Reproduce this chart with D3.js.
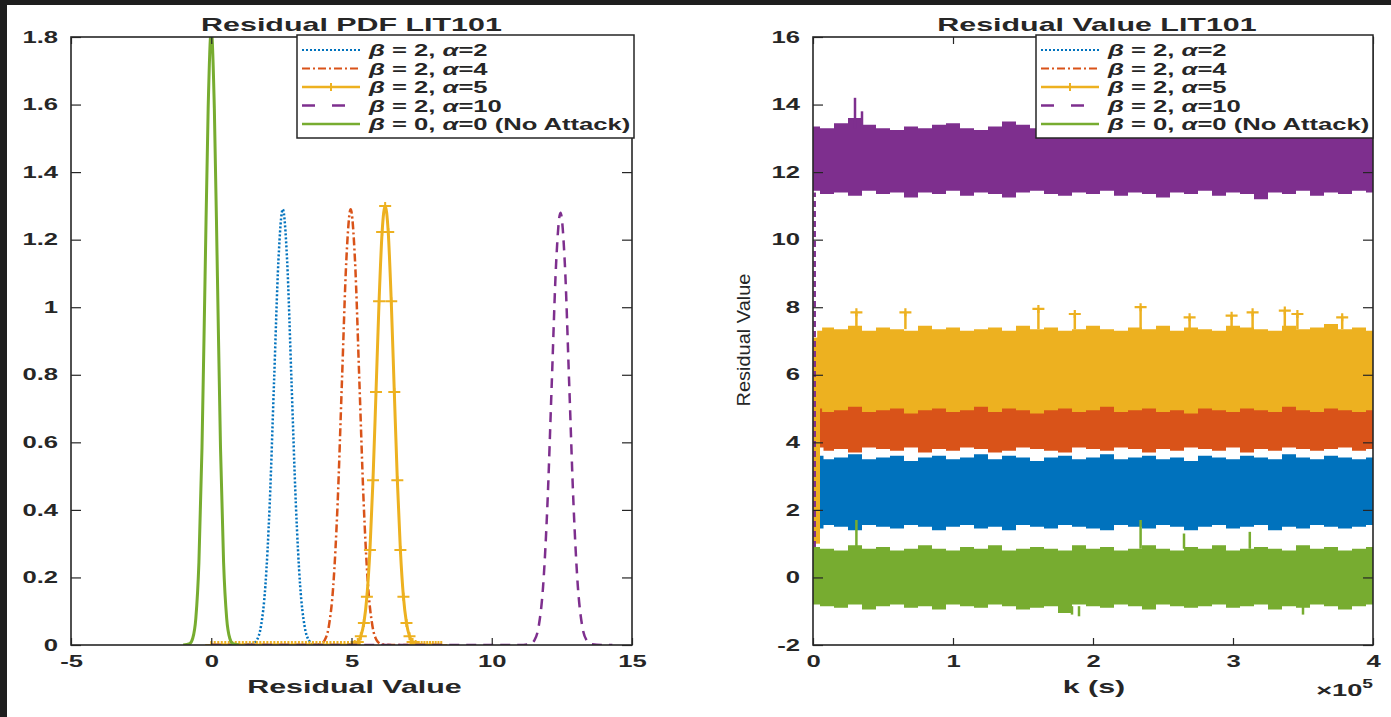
<!DOCTYPE html>
<html>
<head>
<meta charset="utf-8">
<script src="https://cdn.jsdelivr.net/npm/d3@7"></script>
<style>
body { margin: 0; background: #1e1e1e; }
svg { display: block; }
text { font-family: "Liberation Sans", Arial, sans-serif; fill: #262626; }
.axis text { font-weight: bold; font-size: 16px; }
.axis line { stroke: #262626; stroke-width: 1.2; }
.title { font-weight: bold; font-size: 19px; }
.xlabel { font-weight: bold; font-size: 19px; }
.legend text { font-weight: bold; font-size: 16px; }
</style>
</head>
<body>
<svg id="fig" width="1391" height="717"></svg>
<script>
// ---------- data ----------
var colors = ["#0072BD", "#D95319", "#EDB120", "#7E2F8E", "#77AC30"];
var legendBeta = ["2", "2", "2", "2", "0"];
var legendAlpha = ["2", "4", "5", "10", "0"];
var legendExtra = ["", "", "", "", " (No Attack)"];

var pdfXTicks = [-5, 0, 5, 10, 15];
var pdfXLabels = ["-5", "0", "5", "10", "15"];
var pdfYTicks = [0, 0.2, 0.4, 0.6, 0.8, 1, 1.2, 1.4, 1.6, 1.8];
var pdfYLabels = ["0", "0.2", "0.4", "0.6", "0.8", "1", "1.2", "1.4", "1.6", "1.8"];

var resXTicks = [0, 1, 2, 3, 4];
var resXLabels = ["0", "1", "2", "3", "4"];
var resYTicks = [-2, 0, 2, 4, 6, 8, 10, 12, 14, 16];
var resYLabels = ["-2", "0", "2", "4", "6", "8", "10", "12", "14", "16"];

// residual PDFs
var pdfBlueX = [1.0, 1.465, 1.62, 1.775, 1.93, 2.085, 2.24, 2.395, 2.55, 2.705, 2.86, 3.015, 3.17, 3.325, 3.48, 3.635, 4.0];
var pdfBlueY = [0, 0.003, 0.014, 0.057, 0.175, 0.419, 0.782, 1.138, 1.29, 1.138, 0.782, 0.419, 0.175, 0.057, 0.014, 0.003, 0];

var pdfOrangeX = [0, 3.5, 3.885, 4.04, 4.195, 4.35, 4.505, 4.66, 4.815, 4.97, 5.125, 5.28, 5.435, 5.59, 5.745, 5.9, 6.055, 6.5, 8.0];
var pdfOrangeY = [0, 0, 0.003, 0.014, 0.057, 0.175, 0.419, 0.782, 1.138, 1.29, 1.138, 0.782, 0.419, 0.175, 0.057, 0.014, 0.003, 0, 0];

var pdfYellowX = [0, 0.125, 0.25, 0.375, 0.5, 0.625, 0.75, 0.875, 1, 1.125, 1.25, 1.375, 1.5, 1.625, 1.75, 1.875,
  2, 2.125, 2.25, 2.375, 2.5, 2.625, 2.75, 2.875, 3, 3.125, 3.25, 3.375, 3.5, 3.625, 3.75, 3.875,
  4, 4.125, 4.25, 4.375, 4.5, 4.625, 4.75, 4.875,
  5.0, 5.115, 5.224, 5.332, 5.441, 5.549, 5.657, 5.766, 5.874, 5.983, 6.092, 6.2, 6.309, 6.417, 6.526, 6.634, 6.743, 6.851, 6.96, 7.068, 7.177, 7.285,
  7.4, 7.5, 7.6, 7.7, 7.8, 7.9, 8.0, 8.1, 8.2];
var pdfYellowY = [0, 0, 0, 0, 0, 0, 0, 0, 0, 0, 0, 0, 0, 0, 0, 0,
  0, 0, 0, 0, 0, 0, 0, 0, 0, 0, 0, 0, 0, 0, 0, 0,
  0, 0, 0, 0, 0, 0, 0, 0,
  0, 0.003, 0.009, 0.026, 0.065, 0.143, 0.281, 0.488, 0.749, 1.018, 1.223, 1.3, 1.223, 1.018, 0.749, 0.488, 0.281, 0.143, 0.065, 0.026, 0.009, 0.003,
  0, 0, 0, 0, 0, 0, 0, 0, 0];

var pdfPurpleX = [0, 11.0, 11.365, 11.52, 11.675, 11.83, 11.985, 12.14, 12.295, 12.45, 12.605, 12.76, 12.915, 13.07, 13.225, 13.38, 13.535, 13.9, 14.3];
var pdfPurpleY = [0, 0, 0.003, 0.014, 0.056, 0.173, 0.416, 0.776, 1.13, 1.28, 1.13, 0.776, 0.416, 0.173, 0.056, 0.014, 0.003, 0, 0];

var pdfGreenX = [-1.0, -0.77, -0.66, -0.55, -0.44, -0.33, -0.22, -0.11, 0, 0.11, 0.22, 0.33, 0.44, 0.55, 0.66, 0.77, 1.0];
var pdfGreenY = [0, 0.004, 0.020, 0.079, 0.244, 0.584, 1.092, 1.589, 1.82, 1.589, 1.092, 0.584, 0.244, 0.079, 0.020, 0.004, 0];

// residual value bands (k in units of 1e5 s)
var resK = [0, 0.1, 0.2, 0.3, 0.4, 0.5, 0.6, 0.7, 0.8, 0.9, 1, 1.1, 1.2, 1.3, 1.4, 1.5, 1.6, 1.7, 1.8, 1.9,
  2, 2.1, 2.2, 2.3, 2.4, 2.5, 2.6, 2.7, 2.8, 2.9, 3, 3.1, 3.2, 3.3, 3.4, 3.5, 3.6, 3.7, 3.8, 3.9, 4];

var resPurpleTop = [13.35,13.30,13.45,13.60,13.40,13.30,13.25,13.35,13.30,13.40,
  13.45,13.30,13.25,13.35,13.50,13.40,13.30,13.35,13.45,13.30,
  13.40,13.35,13.25,13.40,13.30,13.35,13.45,13.30,13.40,13.35,
  13.30,13.45,13.40,13.30,13.35,13.40,13.30,13.45,13.35,13.30,13.40];
var resPurpleLow = [11.45,11.35,11.40,11.30,11.45,11.35,11.40,11.25,11.40,11.35,
  11.45,11.30,11.40,11.35,11.25,11.40,11.45,11.35,11.30,11.40,
  11.35,11.45,11.30,11.40,11.35,11.25,11.40,11.35,11.45,11.30,
  11.40,11.35,11.20,11.40,11.35,11.45,11.30,11.40,11.35,11.45,11.40];

var resYellowTop = [7.30,7.40,7.35,7.45,7.30,7.40,7.35,7.30,7.45,7.35,
  7.40,7.30,7.35,7.40,7.30,7.45,7.35,7.40,7.30,7.35,
  7.45,7.35,7.30,7.40,7.35,7.45,7.30,7.40,7.35,7.30,
  7.45,7.40,7.35,7.30,7.45,7.35,7.40,7.50,7.35,7.40,7.30];
var resYellowLow = [5.00,4.90,4.95,5.05,4.90,4.95,5.00,4.85,4.95,5.00,
  4.90,4.95,5.05,4.90,5.00,4.95,4.85,4.95,5.00,4.90,
  4.95,5.05,4.90,4.95,5.00,4.90,4.95,4.85,5.00,4.95,
  4.90,5.00,4.95,4.90,5.05,4.95,4.90,5.00,4.95,4.90,4.95];

var resOrangeTop = [5.40,5.35,5.45,5.40,5.50,5.35,5.40,5.45,5.40,5.35,
  5.45,5.40,5.50,5.35,5.40,5.45,5.40,5.35,5.45,5.40,
  5.35,5.50,5.40,5.45,5.35,5.40,5.45,5.40,5.35,5.50,
  5.40,5.45,5.35,5.40,5.45,5.40,5.50,5.35,5.40,5.45,5.40];
var resOrangeLow = [3.85,3.75,3.80,3.70,3.85,3.80,3.75,3.85,3.70,3.80,
  3.75,3.85,3.80,3.70,3.75,3.85,3.80,3.75,3.70,3.85,
  3.80,3.75,3.85,3.80,3.70,3.80,3.75,3.85,3.80,3.75,
  3.85,3.70,3.80,3.75,3.85,3.80,3.75,3.80,3.85,3.75,3.80];

var resBlueTop = [3.60,3.50,3.55,3.65,3.50,3.55,3.60,3.45,3.55,3.60,
  3.50,3.55,3.65,3.50,3.60,3.55,3.45,3.55,3.60,3.50,
  3.55,3.65,3.50,3.55,3.60,3.50,3.55,3.45,3.60,3.55,
  3.50,3.60,3.55,3.50,3.65,3.55,3.50,3.60,3.55,3.50,3.55];
var resBlueLow = [1.45,1.55,1.50,1.40,1.55,1.50,1.45,1.55,1.50,1.40,
  1.50,1.55,1.45,1.50,1.40,1.55,1.50,1.45,1.55,1.50,
  1.45,1.40,1.55,1.50,1.45,1.55,1.50,1.40,1.50,1.55,
  1.45,1.50,1.55,1.40,1.50,1.45,1.55,1.50,1.45,1.50,1.55];

var resGreenTop = [0.90,0.85,0.80,0.95,0.85,0.90,0.80,0.85,0.95,0.85,
  0.80,0.90,0.85,0.95,0.80,0.85,0.90,0.85,0.80,0.95,
  0.85,0.90,0.80,0.85,0.95,0.85,0.80,0.90,0.85,0.95,
  0.80,0.85,0.90,0.85,0.80,0.95,0.85,0.90,0.80,0.85,0.90];
var resGreenLow = [-0.80,-0.85,-0.90,-0.80,-0.95,-0.85,-0.80,-0.90,-0.85,-0.95,
  -0.80,-0.85,-0.90,-0.80,-0.85,-0.95,-0.90,-0.85,-1.05,-0.80,
  -0.85,-0.90,-0.80,-0.85,-0.95,-0.80,-0.85,-0.90,-0.85,-0.80,
  -0.90,-0.85,-0.80,-0.95,-0.85,-0.90,-0.80,-0.85,-0.95,-0.85,-0.80];

// isolated spikes: [k, base, peak]
var resYellowSpikes = [[0.31,7.35,7.85],[0.66,7.35,7.85],[1.61,7.35,7.95],[1.87,7.35,7.8],[2.34,7.35,8.0],
  [2.69,7.35,7.7],[2.99,7.35,7.75],[3.14,7.35,7.85],[3.37,7.35,7.9],[3.46,7.35,7.8],[3.78,7.35,7.7]];
var resPurpleSpikes = [[0.30,13.3,14.2],[0.35,13.3,13.8]];
var resGreenSpikes = [[0.31,0.85,1.7],[2.34,0.85,1.7],[2.65,0.85,1.3],[3.12,0.85,1.35],
  [1.85,-0.85,-1.1],[1.9,-0.85,-1.15],[3.5,-0.85,-1.1]];

// start-up transient near k = 0: [k0, k1, low, high]
var resYellowStart = [0, 0.05, 1.0, 7.1];
var resPurpleStart = [0.005, 0.9, 11.4];

// ---------- layout ----------
var SX = 1.6; // the figure is stretched horizontally
var svg = d3.select("#fig");
svg.append("rect").attr("x", 7).attr("y", 5).attr("width", 1384).attr("height", 712).attr("fill", "#fff");

var pdfM = {left: 71, right: 632, top: 37, bottom: 645};
var resM = {left: 813, right: 1373, top: 37, bottom: 645};

var xPdf = d3.scaleLinear().domain([-5, 15]).range([pdfM.left, pdfM.right]);
var yPdf = d3.scaleLinear().domain([0, 1.8]).range([pdfM.bottom, pdfM.top]);
var xRes = d3.scaleLinear().domain([0, 4]).range([resM.left, resM.right]);
var yRes = d3.scaleLinear().domain([-2, 16]).range([resM.bottom, resM.top]);

function stretch(sel) {
  sel.each(function() {
    var w = this.getComputedTextLength();
    d3.select(this).attr("textLength", w * SX).attr("lengthAdjust", "spacingAndGlyphs");
  });
}

var defs = svg.append("defs");
defs.append("clipPath").attr("id", "clipPdf").append("rect")
  .attr("x", pdfM.left).attr("y", pdfM.top).attr("width", pdfM.right - pdfM.left).attr("height", pdfM.bottom - pdfM.top);
defs.append("clipPath").attr("id", "clipRes").append("rect")
  .attr("x", resM.left).attr("y", resM.top).attr("width", resM.right - resM.left).attr("height", resM.bottom - resM.top);

function plusPath(cx, cy) {
  return "M" + (cx - 6) + "," + cy + "H" + (cx + 6) + "M" + cx + "," + (cy - 4) + "V" + (cy + 4);
}

// ---------- left: PDFs ----------
var pdfSeries = [
  {x: pdfBlueX, y: pdfBlueY, dash: "2,2", width: 2.5},
  {x: pdfOrangeX, y: pdfOrangeY, dash: "8,3,2,3", width: 2.5},
  {x: pdfYellowX, y: pdfYellowY, dash: null, width: 3, marker: true},
  {x: pdfPurpleX, y: pdfPurpleY, dash: "10,7", width: 2.5},
  {x: pdfGreenX, y: pdfGreenY, dash: null, width: 3}
];

var pdfLine = d3.line()
  .x(function(d) { return xPdf(d[0]); })
  .y(function(d) { return yPdf(d[1]); })
  .curve(d3.curveMonotoneX);

var pdfG = svg.append("g").attr("clip-path", "url(#clipPdf)");
pdfSeries.forEach(function(s, i) {
  var pts = s.x.map(function(v, j) { return [v, s.y[j]]; });
  pdfG.append("path")
    .attr("d", pdfLine(pts))
    .attr("fill", "none")
    .attr("stroke", colors[i])
    .attr("stroke-width", s.width)
    .attr("stroke-dasharray", s.dash);
  if (s.marker) {
    pdfG.selectAll(".mk" + i).data(pts).enter().append("path")
      .attr("d", function(d) { return plusPath(xPdf(d[0]), yPdf(d[1])); })
      .attr("stroke", colors[i]).attr("stroke-width", 2).attr("fill", "none");
  }
});

// ---------- right: residual values ----------
var resSeries = [
  {top: resBlueTop, low: resBlueLow, k0: 0.05},
  {top: resOrangeTop, low: resOrangeLow, k0: 0.05},
  {top: resYellowTop, low: resYellowLow, k0: 0.03},
  {top: resPurpleTop, low: resPurpleLow, k0: 0},
  {top: resGreenTop, low: resGreenLow, k0: 0}
];

var band = d3.area()
  .x(function(d) { return xRes(d.k); })
  .y0(function(d) { return yRes(d.low); })
  .y1(function(d) { return yRes(d.top); })
  .curve(d3.curveStep);

var resG = svg.append("g").attr("clip-path", "url(#clipRes)");

function spikes(list, c, withMarker) {
  list.forEach(function(s) {
    resG.append("line")
      .attr("x1", xRes(s[0])).attr("x2", xRes(s[0]))
      .attr("y1", yRes(s[1])).attr("y2", yRes(s[2]))
      .attr("stroke", c).attr("stroke-width", 2.5);
    if (withMarker) {
      resG.append("path").attr("d", plusPath(xRes(s[0]), yRes(s[2])))
        .attr("stroke", c).attr("stroke-width", 2.2).attr("fill", "none");
    }
  });
}

resSeries.forEach(function(s, i) {
  var pts = resK.map(function(k, j) {
    return {k: Math.max(k, s.k0), top: s.top[j], low: s.low[j]};
  });
  resG.append("path").attr("d", band(pts)).attr("fill", colors[i]);
  if (i === 2) {
    spikes(resYellowSpikes, colors[2], true);
    resG.append("rect")
      .attr("x", xRes(resYellowStart[0])).attr("width", xRes(resYellowStart[1]) - xRes(resYellowStart[0]))
      .attr("y", yRes(resYellowStart[3])).attr("height", yRes(resYellowStart[2]) - yRes(resYellowStart[3]))
      .attr("fill", colors[2]);
  }
  if (i === 3) {
    spikes(resPurpleSpikes, colors[3], false);
    resG.append("line")
      .attr("x1", xRes(resPurpleStart[0]) + 1).attr("x2", xRes(resPurpleStart[0]) + 1)
      .attr("y1", yRes(resPurpleStart[1])).attr("y2", yRes(resPurpleStart[2]))
      .attr("stroke", colors[3]).attr("stroke-width", 2.5).attr("stroke-dasharray", "6,4");
  }
  if (i === 4) spikes(resGreenSpikes, colors[4], false);
});

// ---------- axes ----------
function drawAxes(x, y, m, xTicks, xLabels, yTicks, yLabels) {
  var g = svg.append("g").attr("color", "#262626");
  g.append("g").attr("class", "axis").attr("transform", "translate(0," + m.bottom + ")")
    .call(d3.axisBottom(x).tickValues(xTicks).tickSizeInner(-7).tickSizeOuter(0).tickPadding(11)
      .tickFormat(function(d, i) { return xLabels[i]; }));
  g.append("g").attr("class", "axis").attr("transform", "translate(0," + m.top + ")")
    .call(d3.axisTop(x).tickValues(xTicks).tickSizeInner(-7).tickSizeOuter(0).tickFormat(""));
  g.append("g").attr("class", "axis").attr("transform", "translate(" + m.left + ",0)")
    .call(d3.axisLeft(y).tickValues(yTicks).tickSizeInner(-10).tickSizeOuter(0).tickPadding(13)
      .tickFormat(function(d, i) { return yLabels[i]; }));
  g.append("g").attr("class", "axis").attr("transform", "translate(" + m.right + ",0)")
    .call(d3.axisRight(y).tickValues(yTicks).tickSizeInner(-10).tickSizeOuter(0).tickFormat(""));
  g.selectAll(".domain").remove();
  g.append("rect")
    .attr("x", m.left).attr("y", m.top).attr("width", m.right - m.left).attr("height", m.bottom - m.top)
    .attr("fill", "none").attr("stroke", "#262626").attr("stroke-width", 1.6);
  stretch(g.selectAll(".axis text"));
}

drawAxes(xPdf, yPdf, pdfM, pdfXTicks, pdfXLabels, pdfYTicks, pdfYLabels);
drawAxes(xRes, yRes, resM, resXTicks, resXLabels, resYTicks, resYLabels);

// ---------- legends ----------
var legendDash = ["2,2", "8,3,2,3", null, "13,17", null];
var legendWidth = [2.2, 2.2, 2.5, 2.5, 2.5];
var legendRows = [50, 68.5, 87, 105.5, 124];

function drawLegend(right) {
  var left = right - 337;
  var g = svg.append("g").attr("class", "legend");
  g.append("rect").attr("x", left).attr("y", 35).attr("width", 337).attr("height", 103)
    .attr("fill", "#fff").attr("stroke", "#262626").attr("stroke-width", 1.5);
  legendBeta.forEach(function(b, i) {
    var yy = legendRows[i];
    g.append("line").attr("x1", left + 5).attr("x2", left + 63).attr("y1", yy).attr("y2", yy)
      .attr("stroke", colors[i]).attr("stroke-width", legendWidth[i]).attr("stroke-dasharray", legendDash[i]);
    if (i === 2) {
      g.append("path").attr("d", plusPath(left + 34, yy)).attr("stroke", colors[i]).attr("stroke-width", 2);
    }
    var t = g.append("text").attr("x", left + 72).attr("y", yy + 6);
    t.append("tspan").attr("font-style", "italic").text("\u03b2");
    t.append("tspan").text(" = " + b + ", ");
    t.append("tspan").attr("font-style", "italic").text("\u03b1");
    t.append("tspan").text("=" + legendAlpha[i] + legendExtra[i]);
    stretch(t);
  });
}
drawLegend(pdfM.right + 2);
drawLegend(resM.right);

// ---------- titles and labels ----------
stretch(svg.append("text").attr("class", "title").attr("x", (pdfM.left + pdfM.right) / 2).attr("y", 31)
  .attr("text-anchor", "middle").text("Residual PDF LIT101"));
stretch(svg.append("text").attr("class", "title").attr("x", (resM.left + resM.right) / 2 + 4).attr("y", 31)
  .attr("text-anchor", "middle").text("Residual Value LIT101"));
stretch(svg.append("text").attr("class", "xlabel").attr("x", (pdfM.left + pdfM.right) / 2 + 3).attr("y", 693)
  .attr("text-anchor", "middle").text("Residual Value"));
stretch(svg.append("text").attr("class", "xlabel").attr("x", (resM.left + resM.right) / 2 + 1).attr("y", 693)
  .attr("text-anchor", "middle").text("k (s)"));

var expo = svg.append("text").attr("x", 1373).attr("y", 696).attr("text-anchor", "end")
  .attr("font-size", 17).attr("font-weight", "bold").attr("fill", "#333");
expo.append("tspan").text("\u00d710");
expo.append("tspan").attr("dy", -8).attr("font-size", 12).text("5");
stretch(expo);

svg.append("text").attr("transform", "translate(750,340) rotate(-90)")
  .attr("text-anchor", "middle").attr("font-size", 19)
  .attr("textLength", 133).attr("lengthAdjust", "spacingAndGlyphs")
  .text("Residual Value");
</script>
</body>
</html>
